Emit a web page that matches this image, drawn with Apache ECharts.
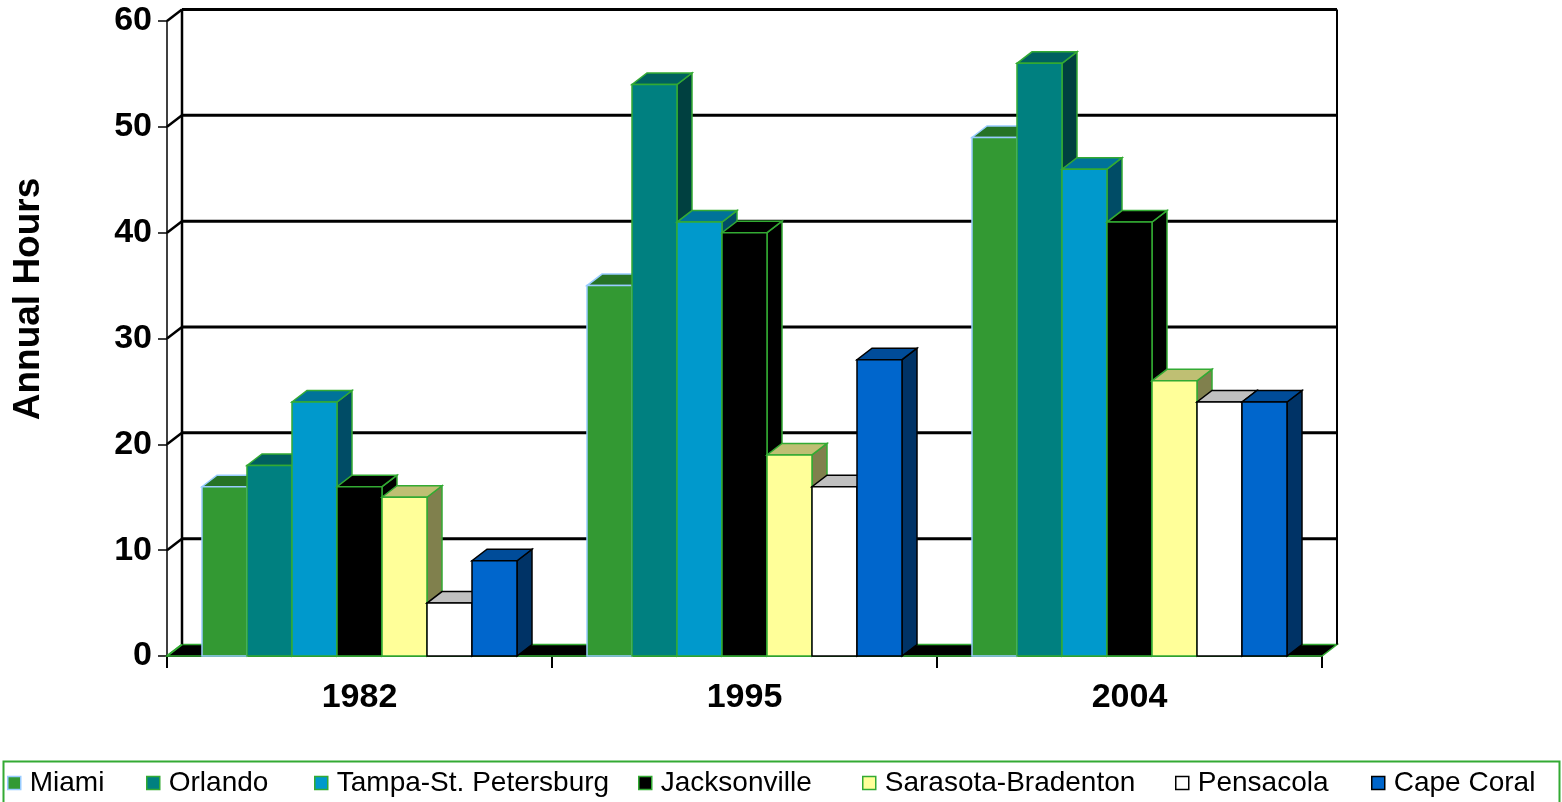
<!DOCTYPE html>
<html>
<head>
<meta charset="utf-8">
<script src="https://cdn.jsdelivr.net/npm/echarts@6/dist/echarts.min.js"></script>
<style>
html,body{margin:0;padding:0;background:#fff;}
#chart{width:1562px;height:802px;}
</style>
</head>
<body>
<div id="chart"></div>
<script>
// ---- data ----
const categories = ['1982', '1995', '2004'];
const cityNames = ['Miami', 'Orlando', 'Tampa-St. Petersburg', 'Jacksonville', 'Sarasota-Bradenton', 'Pensacola', 'Cape Coral'];
const miami        = [16, 35, 49];
const orlando      = [18, 54, 56];
const tampa        = [24, 41, 46];
const jacksonville = [16, 40, 41];
const sarasota     = [15, 19, 26];
const pensacola    = [5, 16, 24];
const capeCoral    = [9, 28, 24];
const yTicks = [0, 10, 20, 30, 40, 50, 60];
const axisTitle = 'Annual Hours';

const cityValues = [miami, orlando, tampa, jacksonville, sarasota, pensacola, capeCoral];

// ---- styling ----
const FONT = 'Arial, "Liberation Sans", sans-serif';
const DX = 15, DY = -11.5;         // 3D depth offset
const BAR_FRAC = 45 / 385;         // bar width as fraction of category band
const GREEN = '#33AA33';
const palette = [
  {face: '#339933', top: '#267326', side: '#1A4D1A', stroke: '#99CCFF'},
  {face: '#008080', top: '#006060', side: '#004040', stroke: GREEN},
  {face: '#0099CC', top: '#007399', side: '#004C66', stroke: GREEN},
  {face: '#000000', top: '#000000', side: '#000000', stroke: GREEN},
  {face: '#FFFF99', top: '#BFBF73', side: '#80804D', stroke: GREEN},
  {face: '#FFFFFF', top: '#C0C0C0', side: '#808080', stroke: '#000000'},
  {face: '#0066CC', top: '#004C99', side: '#003366', stroke: '#000000'}
];
const legendLefts = [7, 146, 314, 638, 862, 1175, 1371];

const chart = echarts.init(document.getElementById('chart'), null, {renderer: 'canvas'});

function wallRender(params, api) {
  const cs = params.coordSys;
  const v = api.value(0);
  const p = api.coord([0, v]);
  const y = p[1];
  const x0 = cs.x, x1 = cs.x + cs.width;
  const children = [];
  if (v === yTicks[0]) {
    const yTop = api.coord([0, yTicks[yTicks.length - 1]])[1];
    children.push({
      type: 'polygon',
      shape: {points: [[x0, y], [x1, y], [x1 + DX, y + DY], [x0 + DX, y + DY]]},
      style: {fill: '#000', stroke: GREEN, lineWidth: 1.5}
    });
    children.push({type: 'line', shape: {x1: x0 + DX, y1: yTop + DY, x2: x0 + DX, y2: y + DY},
      style: {stroke: '#000', lineWidth: 2.5}});
    children.push({type: 'line', shape: {x1: x1 + DX, y1: yTop + DY, x2: x1 + DX, y2: y + DY},
      style: {stroke: '#000', lineWidth: 2}});
    children.push({type: 'line', shape: {x1: x0, y1: y, x2: x0 + DX, y2: y + DY},
      style: {stroke: GREEN, lineWidth: 2}});
  } else {
    children.push({type: 'line', shape: {x1: x0 + DX, y1: y + DY, x2: x1 + DX, y2: y + DY},
      style: {stroke: '#000', lineWidth: 3}});
    children.push({type: 'line', shape: {x1: x0, y1: y, x2: x0 + DX, y2: y + DY},
      style: {stroke: '#000', lineWidth: 2.5}});
  }
  return {type: 'group', children: children};
}

function makeBarRender(si) {
  return function (params, api) {
    const c = api.value(0), v = api.value(1);
    const band = api.size([1, 0])[0];
    const bw = band * BAR_FRAC;
    const center = api.coord([c, 0])[0];
    const left = center - bw * cityNames.length / 2 + si * bw;
    const yb = api.coord([c, 0])[1];
    const yt = api.coord([c, v])[1];
    const col = palette[si];
    const lw = 1.5;
    return {
      type: 'group',
      children: [
        {type: 'polygon', shape: {points: [[left + bw, yt], [left + bw + DX, yt + DY], [left + bw + DX, yb + DY], [left + bw, yb]]},
          style: {fill: col.side, stroke: col.stroke, lineWidth: lw}},
        {type: 'polygon', shape: {points: [[left, yt], [left + bw, yt], [left + bw + DX, yt + DY], [left + DX, yt + DY]]},
          style: {fill: col.top, stroke: col.stroke, lineWidth: lw}},
        {type: 'rect', shape: {x: left, y: yt, width: bw, height: yb - yt},
          style: {fill: col.face, stroke: col.stroke, lineWidth: lw}}
      ]
    };
  };
}

const series = [{
  type: 'custom',
  name: '__wall',
  z: 1,
  silent: true,
  renderItem: wallRender,
  data: yTicks.map(v => [v]),
  encode: {y: 0},
  clip: false
}];
cityNames.forEach((name, si) => {
  series.push({
    type: 'custom',
    name: name,
    z: 2,
    renderItem: makeBarRender(si),
    itemStyle: {color: palette[si].face, borderColor: palette[si].stroke},
    data: categories.map((cat, ci) => [ci, cityValues[si][ci]]),
    encode: {x: 0, y: 1},
    clip: false
  });
});

const legends = cityNames.map((name, si) => ({
  data: [{name: name, itemStyle: {color: palette[si].face, borderColor: palette[si].stroke, borderWidth: 1.5}}],
  left: legendLefts[si],
  top: 769,
  icon: 'rect',
  itemWidth: 13,
  itemHeight: 13,
  selectedMode: false,
  padding: 0,
  textStyle: {fontFamily: FONT, fontSize: 28, color: '#000', padding: [0, 0, 0, 4]}
}));

const option = {
  backgroundColor: '#fff',
  animation: false,
  grid: {left: 167, right: 240, top: 21, bottom: 146, containLabel: false, outerBoundsMode: 'none'},
  xAxis: {
    type: 'category',
    data: categories,
    axisLine: {show: true, lineStyle: {color: '#000', width: 2}},
    axisTick: {show: true, length: 12, lineStyle: {color: '#000', width: 2}},
    axisLabel: {fontFamily: FONT, fontSize: 34, fontWeight: 'bold', color: '#000', margin: 25},
    splitLine: {show: false}
  },
  yAxis: {
    type: 'value',
    min: 0, max: 60, interval: 10,
    axisLine: {show: true, lineStyle: {color: '#000', width: 1.5}},
    axisTick: {show: true, length: 9, lineStyle: {color: '#000', width: 1.5}},
    axisLabel: {fontFamily: FONT, fontSize: 34, fontWeight: 'bold', color: '#000', margin: 15},
    splitLine: {show: false}
  },
  legend: legends,
  graphic: [{
    type: 'rect',
    left: 1, top: 759,
    shape: {width: 1556, height: 60},
    style: {fill: 'none', stroke: GREEN, lineWidth: 2},
    silent: true
  }, {
    type: 'text',
    x: 29, y: 299,
    rotation: Math.PI / 2,
    style: {text: axisTitle, font: 'bold 37px ' + FONT, fill: '#000', align: 'center', verticalAlign: 'middle'},
    silent: true
  }],
  series: series
};
chart.setOption(option);
</script>
</body>
</html>
